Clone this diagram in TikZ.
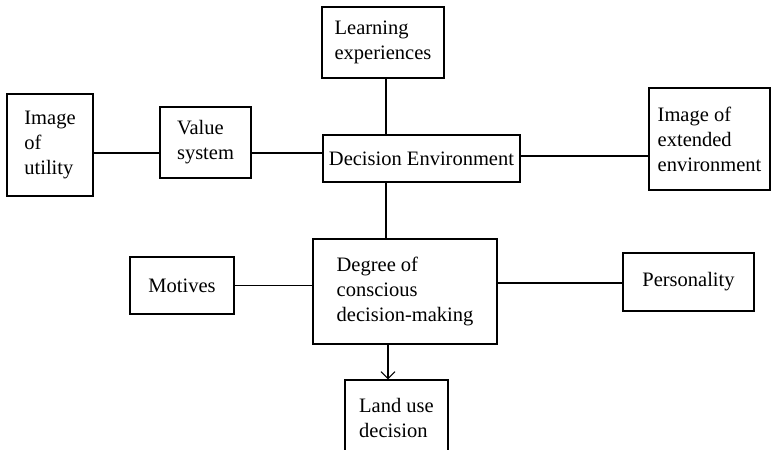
\documentclass[tikz,border=0pt]{standalone}
\usepackage{fontspec}
\setmainfont{Liberation Serif}
\usetikzlibrary{arrows.meta}
\begin{document}
\begin{tikzpicture}[x=1pt, y=-1pt, line width=1.1pt]
\tikzstyle{every node}=[draw, shape=rectangle, align=left, inner sep=0pt, font=\fontsize{20.5}{25}\selectfont];
\useasboundingbox (0,0) rectangle (772,450);
\clip (0,0) rectangle (772,450);
\node[minimum width=86pt, minimum height=102pt] (util) at (50, 145) {Image\\of\\utility};
\node[minimum width=91pt, minimum height=71pt] (value) at (205.5, 142.5) {Value\\system};
\node[minimum width=122pt, minimum height=71pt] (learn) at (383, 42.5) {Learning\\experiences};
\node[minimum width=197pt, minimum height=47pt] (env) at (421.5, 158.5) {Decision Environment};
\node[minimum width=121pt, minimum height=102pt] (ext) at (709.5, 139) {Image of\\extended\\environment};
\node[minimum width=184pt, minimum height=105pt] (degree) at (405, 291.5) {Degree of\\conscious\\decision-making};
\node[minimum width=104pt, minimum height=57pt] (motives) at (182, 285.5) {Motives};
\node[minimum width=131pt, minimum height=58pt] (pers) at (688.5, 282) {Personality};
\node[minimum width=103pt, minimum height=90pt, text depth=14pt] (land) at (396.5, 425) {Land use\\decision};
\draw ([yshift=-8pt]util.east) -- ([yshift=-8pt]util.east -| value.west)
([yshift=-10.5pt]value.east) -- ([yshift=-10.5pt]value.east -| env.west)
([yshift=2.5pt]env.east) -- ([yshift=2.5pt]env.east -| ext.west)
([xshift=3pt]learn.south) -- ([xshift=3pt]learn.south |- env.north)
([xshift=3pt]learn.south |- env.south) -- ([xshift=3pt]learn.south |- degree.north)
(motives.east) -- (motives.east -| degree.west)
([yshift=-1pt]pers.west -| degree.east) -- ([yshift=-1pt]pers.west);
\draw[-{Straight Barb[length=7pt, width=14pt]}] ([xshift=-8.5pt]land.north |- degree.south) -- ([xshift=-8.5pt]land.north);
\end{tikzpicture}
\end{document}
